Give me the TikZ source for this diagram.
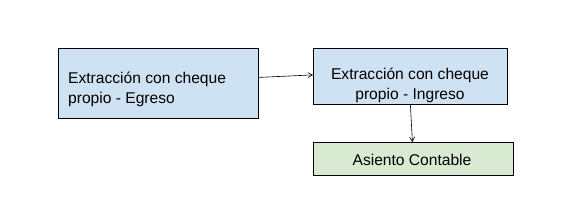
\documentclass[tikz,border=0pt]{standalone}
\usepackage{fontspec}
\setmainfont{Liberation Sans}
\usetikzlibrary{arrows.meta}
\definecolor{azulclaro}{HTML}{CFE2F3}
\definecolor{verdeclaro}{HTML}{D9EAD3}

\begin{document}
\begin{tikzpicture}[
  x=1pt, y=-1pt,
  caja/.style={draw, line width=0.8pt, inner sep=0pt, anchor=north west},
  proceso/.style={caja, fill=azulclaro},
  asiento/.style={caja, fill=verdeclaro},
  texto/.style={font=\fontsize{15.6}{19.8}\selectfont, inner sep=0pt},
  flecha/.style={-{Straight Barb[length=1.6mm, width=1.8mm]}, line width=0.6pt}
]
\useasboundingbox (0,0) rectangle (581,216);

\node[proceso, minimum width=200pt, minimum height=70pt] (egreso) at (58,48) {};
\node[proceso, minimum width=194pt, minimum height=56pt] (ingreso) at (313,48) {};
\node[asiento, minimum width=200pt, minimum height=33pt] (contable) at (313,142) {};

\node[texto, align=left, anchor=base west] (tegreso) at (68,103.3)
  {Extracción con cheque\\propio - Egreso};
\node[texto, align=center, anchor=base] (tingreso) at (410,99.5)
  {Extracción con cheque\\propio - Ingreso};
\node[texto, anchor=base] (tcontable) at (412,165.7) {Asiento Contable};

\draw[flecha] ([yshift=6pt]egreso.east) -- ([yshift=1.5pt]ingreso.west);
\draw[flecha] (ingreso.south) -- ([xshift=-1pt]contable.north);
\end{tikzpicture}
\end{document}
